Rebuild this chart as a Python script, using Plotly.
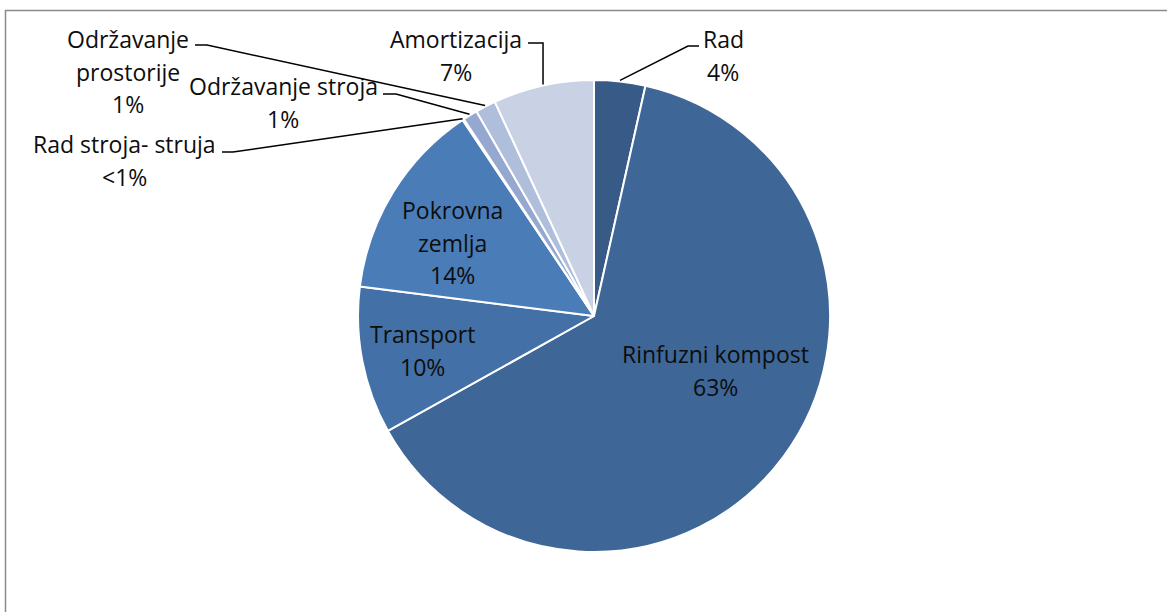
import math
import plotly.graph_objects as go

# ---- data ----
labels = ["Rad", "Rinfuzni kompost", "Transport", "Pokrovna zemlja",
          "Rad stroja- struja", "Održavanje stroja", "Održavanje prostorije",
          "Amortizacija"]
values = [3.5, 63.4, 10.1, 13.6, 0.1, 1.0, 1.4, 6.9]
colors = ["#375A87", "#3E6697", "#4371A7", "#4A7CB8",
          "#7E96C8", "#95A8D0", "#AFBEDB", "#C9D2E5"]

W, H = 1167, 612
OFF = 0
CX, CY, R = 594, 316, 236


def px(x, y):
    return (x - OFF) / W, 1 - (y - OFF) / H


dx0, dy0 = px(CX - R, CY + R)
dx1, dy1 = px(CX + R, CY - R)
fig = go.Figure(go.Pie(
    labels=labels, values=values, sort=False, direction="clockwise",
    rotation=0, textinfo="none", showlegend=False,
    marker=dict(colors=colors, line=dict(color="white", width=2)),
    domain=dict(x=[dx0, dx1], y=[dy0, dy1]),
))

total = sum(values)


def pct_text(v):
    p = v / total * 100
    return "<1%" if p < 1 else f"{round(p)}%"


def edge_point(i, extra=0):
    cum = sum(values[:i]) + values[i] / 2
    th = 2 * math.pi * cum / total
    return CX + (R + extra) * math.sin(th), CY - (R + extra) * math.cos(th)


# label layout: lines (name parts), center x, first baseline y
layout_spec = {
    0: (["Rad"], 723, 47),
    1: (["Rinfuzni kompost"], 715, 362),
    2: (["Transport"], 422, 342),
    3: (["Pokrovna", "zemlja"], 452, 218),
    4: (["Rad stroja- struja"], 124, 152),
    5: (["Održavanje stroja"], 283, 94),
    6: (["Održavanje", "prostorije"], 128, 47),
    7: (["Amortizacija"], 456, 47),
}
LS = 32.8
FS = 23
FONT = dict(family="Open Sans", size=FS, color="#0d0d0d")
annotations = []
for i, (parts, xc, yb) in layout_spec.items():
    lines = parts + [pct_text(values[i])]
    for k, t in enumerate(lines):
        yy = yb + k * LS - 0.36 * FS
        x, y = px(xc, yy)
        annotations.append(dict(text=t, x=x, y=y, xref="paper", yref="paper",
                                xanchor="center", yanchor="middle",
                                showarrow=False, font=FONT))

shapes = []
# frame
x0, y0 = px(5.5, 10.5)
x1, y1 = px(1185, 640)
shapes.append(dict(type="rect", xref="paper", yref="paper", x0=x0, y0=y1, x1=x1, y1=y0,
                   line=dict(color="#8a8a8a", width=1.5), fillcolor="rgba(0,0,0,0)", layer="below"))


def leader(points):
    pts = [px(*p) for p in points]
    path = "M " + " L ".join(f"{a},{b}" for a, b in pts)
    shapes.append(dict(type="path", xref="paper", yref="paper", path=path,
                       line=dict(color="black", width=1.5)))


# Rad
ex, ey = edge_point(0, 1)
leader([(ex, ey), (688, 46), (699, 46)])
# Amortizacija
ex, ey = edge_point(7, 1)
leader([(528, 43), (ex, 43), (ex, ey)])
# Održavanje prostorije
ex, ey = edge_point(6, 1)
leader([(195, 45), (207, 45), (ex, ey)])
# Održavanje stroja
ex, ey = edge_point(5, 1)
leader([(383, 94), (396, 94), (ex, ey)])
# Rad stroja- struja
ex, ey = edge_point(4, 1)
leader([(222, 152), (233, 152), (ex, ey)])

fig.update_layout(width=W, height=H, margin=dict(l=0, r=0, t=0, b=0),
                  paper_bgcolor="white", plot_bgcolor="white",
                  annotations=annotations, shapes=shapes)
fig.write_html("out.html", config={"displayModeBar": False},
               post_script="document.body.style.margin='0';")
